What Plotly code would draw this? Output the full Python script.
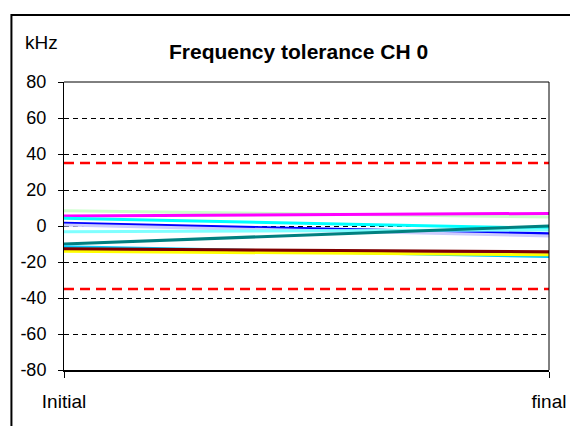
import plotly.graph_objects as go

categories = ["Initial", "final"]

# series values (kHz) at Initial and final
series_names = ["S1", "S2", "S3", "S4", "S5", "S6", "S7", "S8", "S9", "S10", "S11"]
series_colors = ["#CCFFCC", "#FF00FF", "#00FFFF", "#0000FF", "#CCCCFF", "#80FFFF",
                 "#008080", "#00CCFF", "#800080", "#FFFF00", "#800000"]
s1 = [8.5, 5.0]
s2 = [5.5, 7.0]
s3 = [4.3, -1.3]
s4 = [1.5, -4.3]
s5 = [0.5, -5.5]
s6 = [-3.2, -2.2]
s7 = [-10.0, 0.0]
s8 = [-11.5, -17.0]
s9 = [-13.0, -15.5]
s10 = [-14.0, -16.0]
s11 = [-12.6, -14.3]
series_values = [s1, s2, s3, s4, s5, s6, s7, s8, s9, s10, s11]

upper_limit = [35, 35]
lower_limit = [-35, -35]

y_ticks = [-80, -60, -40, -20, 0, 20, 40, 60, 80]
y_tick_labels = ["-80", "-60", "-40", "-20", "0", "20", "40", "60", "80"]

FONT = "Arial, 'Liberation Sans', sans-serif"

fig = go.Figure()

for name, col, vals in zip(series_names, series_colors, series_values):
    fig.add_trace(go.Scatter(x=categories, y=vals, mode="lines", name=name,
                             line=dict(color=col, width=3)))

for vals in (upper_limit, lower_limit):
    fig.add_trace(go.Scatter(x=categories, y=vals, mode="lines",
                             line=dict(color="#FF0000", width=2.5, dash="10px,6px")))

OFF = 8  # page body margin
W, H = 578 - OFF, 426 - OFF
L = 63 - OFF
T = 82 - OFF
R = W - (552 - OFF)
B = H - (370 - OFF)
pw = W - L - R
ph = H - T - B

def px(xp):
    return (xp - OFF - L) / pw

def py(yp):
    return (H - B - (yp - OFF)) / ph

fig.update_layout(
    width=W, height=H,
    margin=dict(l=L, r=R, t=T, b=B),
    paper_bgcolor="white", plot_bgcolor="white",
    showlegend=False,
    font=dict(family=FONT, color="black", size=17),
    xaxis=dict(type="category", range=[0, 1], showgrid=False, zeroline=False,
               showline=True, linecolor="black", linewidth=2,
               ticks="outside", ticklen=6, tickcolor="black", tickwidth=1,
               tickfont=dict(size=19), ticklabelstandoff=7),
    yaxis=dict(range=[-80, 80], tickvals=y_ticks, ticktext=y_tick_labels,
               showgrid=True, gridcolor="black", gridwidth=1, griddash="5px,4px",
               zeroline=False, showline=True, linecolor="black", linewidth=1,
               ticks="outside", ticklen=5, tickcolor="black",
               tickfont=dict(size=18), ticklabelstandoff=8),
    shapes=[
        dict(type="line", xref="paper", yref="paper", x0=0, x1=1, y0=1, y1=1,
             line=dict(color="black", width=1)),
        dict(type="line", xref="paper", yref="paper", x0=1, x1=1, y0=0, y1=1,
             line=dict(color="black", width=1)),
        dict(type="rect", xref="paper", yref="paper", x0=px(10), x1=px(600),
             y0=py(450), y1=py(15), line=dict(color="black", width=2),
             fillcolor="rgba(0,0,0,0)", layer="above"),
    ],
    annotations=[
        dict(text="<b>Frequency tolerance CH 0</b>", xref="paper", yref="paper",
             x=px(299), y=py(51), xanchor="center", yanchor="middle",
             showarrow=False, font=dict(size=21, family=FONT)),
        dict(text="kHz", xref="paper", yref="paper", x=px(22), y=py(42),
             xanchor="left", yanchor="middle", showarrow=False,
             font=dict(size=19, family=FONT)),
    ],
)

fig.write_html("out.html")
